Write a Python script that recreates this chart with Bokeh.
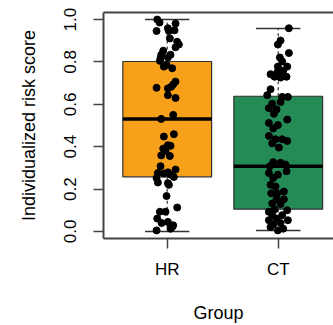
from bokeh.plotting import figure
from bokeh.models import Range1d, FixedTicker, LinearAxis
from bokeh.embed import file_html
from bokeh.resources import INLINE

groups = ["HR", "CT"]
box_colors = ["#F7A11A", "#248B57"]
q1 = [0.258, 0.105]
median = [0.531, 0.308]
q3 = [0.802, 0.638]
whisk_lo = [0.0, 0.005]
whisk_hi = [1.0, 0.958]

hr_y = [1.0, 0.986, 0.981, 0.946, 0.959, 0.946, 0.949, 0.911, 0.895, 0.882, 0.869, 0.853,
        0.834, 0.834, 0.818, 0.821, 0.805, 0.786, 0.770, 0.778, 0.707, 0.694, 0.675, 0.678,
        0.683, 0.643, 0.630, 0.531, 0.550, 0.448, 0.459, 0.407, 0.391, 0.404, 0.380, 0.359,
        0.356, 0.308, 0.279, 0.292, 0.276, 0.273, 0.268, 0.252, 0.257, 0.228, 0.231, 0.220,
        0.167, 0.113, 0.093, 0.093, 0.061, 0.040, 0.045, 0.029, 0.013, 0.005, 0.021]
hr_jit = [-0.090, -0.069, 0.075, -0.096, 0.006, 0.015, 0.066, 0.024, 0.090, 0.105, 0.075, -0.036,
          -0.054, 0.030, -0.060, 0.006, -0.066, -0.006, 0.045, -0.030, 0.075, 0.054, 0.006, -0.096,
          0.036, 0.006, 0.075, -0.054, 0.054, -0.030, 0.060, 0.006, -0.036, 0.030, -0.015, -0.054,
          0.024, -0.060, 0.006, 0.075, -0.084, -0.030, 0.030, -0.096, 0.060, 0.006, -0.084, 0.015,
          -0.006, 0.090, -0.066, -0.015, -0.090, -0.051, 0.006, 0.054, 0.030, -0.096, 0.045]

ct_y = [0.959, 0.901, 0.882, 0.842, 0.821, 0.802, 0.778, 0.778, 0.742, 0.730, 0.726, 0.730,
        0.751, 0.758, 0.671, 0.643, 0.635, 0.635, 0.603, 0.611, 0.582, 0.576, 0.555, 0.528,
        0.512, 0.486, 0.502, 0.451, 0.435, 0.435, 0.427, 0.416, 0.396, 0.327, 0.324, 0.308,
        0.316, 0.284, 0.276, 0.252, 0.268, 0.220, 0.212, 0.188, 0.180, 0.180, 0.152, 0.152,
        0.132, 0.129, 0.093, 0.104, 0.100, 0.077, 0.077, 0.053, 0.061, 0.040, 0.021, 0.013,
        0.005, 0.033, 0.053]
ct_jit = [0.096, 0.021, -0.003, 0.096, 0.015, 0.036, 0.081, -0.003, -0.069, -0.033, 0.021, 0.075,
          -0.009, 0.045, -0.069, -0.099, 0.036, 0.087, -0.054, 0.021, -0.084, -0.015, -0.039, 0.081,
          -0.084, -0.045, -0.003, -0.084, -0.024, 0.036, 0.081, -0.054, 0.006, -0.045, 0.021, -0.075,
          0.066, 0.075, -0.084, -0.045, -0.003, -0.069, -0.024, 0.051, -0.063, -0.009, -0.015, 0.051,
          -0.054, 0.021, -0.084, -0.033, 0.081, -0.054, 0.036, -0.084, -0.015, 0.021, -0.069, 0.045,
          -0.003, -0.045, 0.087]

y_ticks = [0.0, 0.2, 0.4, 0.6, 0.8, 1.0]

FONT = "Liberation Sans"
pos = [i + 1 for i in range(len(groups))]
box_w = 0.8
cap_w = 0.4

p = figure(width=333, height=325, output_backend="svg", toolbar_location=None,
           x_range=Range1d(0.426, 2.498), y_range=Range1d(-0.0333, 1.0333),
           min_border_left=103, min_border_right=0, min_border_top=12, min_border_bottom=87)
p.outline_line_color = None
p.outline_line_alpha = 0
p.outline_line_width = 0
p.border_fill_color = "white"
p.xgrid.visible = False
p.ygrid.visible = False
p.background_fill_color = "white"

# whiskers (dashed) and caps
for i, x in enumerate(pos):
    p.segment(x0=[x, x], y0=[q3[i], q1[i]], x1=[x, x], y1=[whisk_hi[i], whisk_lo[i]],
              line_color="#333333", line_width=1.2, line_dash="3 3")
    p.segment(x0=[x - cap_w / 2] * 2, y0=[whisk_hi[i], whisk_lo[i]],
              x1=[x + cap_w / 2] * 2, y1=[whisk_hi[i], whisk_lo[i]],
              line_color="#333333", line_width=1.5)

p.vbar(x=pos, bottom=q1, top=q3, width=box_w, fill_color=box_colors,
       line_color="#333333", line_width=1.2)
p.segment(x0=[x - box_w / 2 for x in pos], y0=median, x1=[x + box_w / 2 for x in pos], y1=median,
          line_color="black", line_width=3.5)

hr_x = [pos[0] + j for j in hr_jit]
ct_x = [pos[1] + j for j in ct_jit]
p.scatter(hr_x, hr_y, size=7, color="black")
p.scatter(ct_x, ct_y, size=7, color="black")

# axes
for ax in (p.xaxis[0], p.yaxis[0]):
    ax.axis_line_color = "#444444"
    ax.axis_line_width = 2
    ax.major_tick_line_color = "#444444"
    ax.major_tick_line_width = 1.5
    ax.major_tick_out = 10
    ax.major_tick_in = 0
    ax.minor_tick_line_color = None
    ax.major_label_text_font = FONT
    ax.major_label_text_font_size = "17px"
    ax.major_label_text_color = "black"
    ax.axis_label_text_font = FONT
    ax.axis_label_text_font_size = "18px"
    ax.axis_label_text_font_style = "normal"
    ax.axis_label_text_color = "black"

p.xaxis.ticker = FixedTicker(ticks=pos)
p.xaxis.major_label_overrides = {x: g for x, g in zip(pos, groups)}
p.xaxis.axis_label = "Group"
p.xaxis.major_label_standoff = 11
p.xaxis.axis_label_standoff = 21

p.yaxis.ticker = FixedTicker(ticks=y_ticks)
p.yaxis.major_label_overrides = {t: f"{t:.1f}" for t in y_ticks}
p.yaxis.major_label_orientation = "parallel"
p.yaxis.axis_label = "Individualized risk score"
p.yaxis.major_label_standoff = 17
p.yaxis.axis_label_standoff = 23

top = LinearAxis(ticker=FixedTicker(ticks=[]), axis_line_color="#444444", axis_line_width=2,
                 major_tick_line_color=None, minor_tick_line_color=None,
                 major_label_text_font_size="0px")
p.add_layout(top, "above")

open("out.html", "w").write(file_html(p, INLINE))
